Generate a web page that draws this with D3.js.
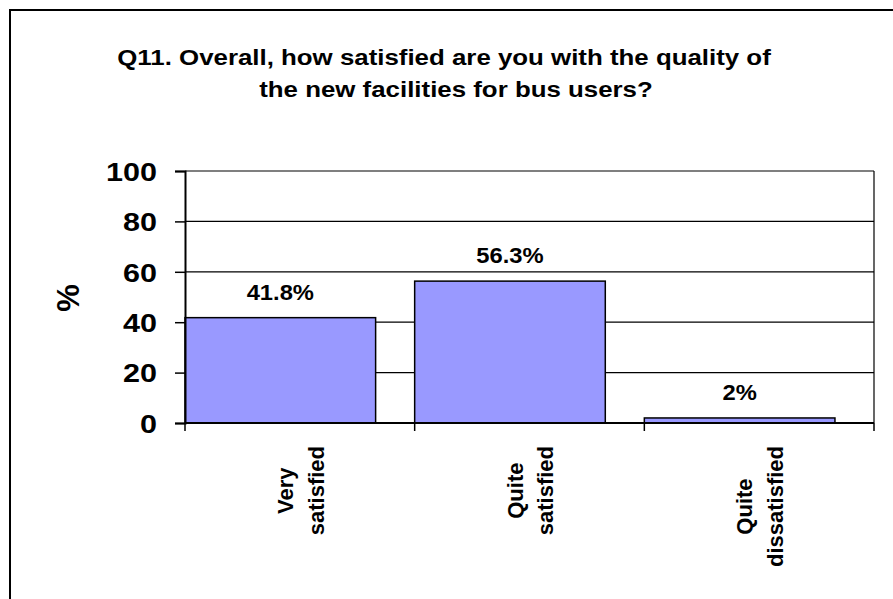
<!DOCTYPE html>
<html>
<head>
<meta charset="utf-8">
<script src="https://cdn.jsdelivr.net/npm/d3@7"></script>
<style>
  html, body { margin: 0; padding: 0; background: #fff; overflow: hidden; }
  svg { display: block; font-family: "Liberation Sans", Arial, sans-serif; font-weight: bold; }
</style>
</head>
<body>
<svg id="chart" width="893" height="599"></svg>
<script>
// Survey answers and their shares (%)
const categories = [["Very", "satisfied"], ["Quite", "satisfied"], ["Quite", "dissatisfied"]];
const values = [41.8, 56.3, 2];
const valueLabels = ["41.8%", "56.3%", "2%"];
const yTicks = [0, 20, 40, 60, 80, 100];
const titleLines = ["Q11. Overall, how satisfied are you with the quality of",
                    "the new facilities for bus users?"];
const yTitle = "%";

const svg = d3.select("#chart");
const keys = categories.map(c => c.join(" "));

const plot = { left: 185, right: 874, top: 171, bottom: 423 };
const wide = 1.175; // horizontal stretch of the chart lettering

const x = d3.scaleBand().domain(keys).range([plot.left, plot.right]).padding(0);
const y = d3.scaleLinear().domain([0, 100]).range([plot.bottom, plot.top]);
const barWidth = x.bandwidth() * 0.83;

// Outer frame of the chart: only its top and left edges lie on the page
svg.append("line").attr("x1", 9).attr("x2", 893).attr("y1", 10).attr("y2", 10)
  .attr("stroke", "#000").attr("stroke-width", 2);
svg.append("line").attr("x1", 10).attr("x2", 10).attr("y1", 9).attr("y2", 599)
  .attr("stroke", "#000").attr("stroke-width", 2);

// Title
const titleX = [444, 456];
svg.append("g").selectAll("text").data(titleLines).join("text")
  .attr("transform", (d, i) => `translate(${titleX[i]},${65 + i * 32}) scale(${wide},1)`)
  .attr("text-anchor", "middle")
  .attr("font-size", 22)
  .text(d => d);

// Horizontal gridlines
svg.append("g").selectAll("line").data(yTicks.filter(t => t > 0)).join("line")
  .attr("x1", plot.left).attr("x2", plot.right)
  .attr("y1", d => y(d)).attr("y2", d => y(d))
  .attr("stroke", "#000").attr("stroke-width", 1.2);

// Right edge of the plot area
svg.append("line")
  .attr("x1", plot.right).attr("x2", plot.right)
  .attr("y1", plot.top).attr("y2", plot.bottom)
  .attr("stroke", "#000").attr("stroke-width", 1.2);

// Bars
svg.append("g").selectAll("rect").data(values).join("rect")
  .attr("x", (d, i) => x(keys[i]))
  .attr("y", d => y(d))
  .attr("width", barWidth)
  .attr("height", d => y(0) - y(d))
  .attr("fill", "#9999FF")
  .attr("stroke", "#000").attr("stroke-width", 1.5);

// Value labels above bars
svg.append("g").selectAll("text").data(values).join("text")
  .attr("transform", (d, i) => `translate(${x(keys[i]) + barWidth / 2},${y(d) - 18}) scale(1.08,1)`)
  .attr("text-anchor", "middle")
  .attr("font-size", 22)
  .text((d, i) => valueLabels[i]);

// Y axis
const yAxis = d3.axisLeft(y).tickValues(yTicks).tickSize(10).tickFormat(d3.format("d"));
const gy = svg.append("g").attr("transform", `translate(${plot.left},0)`).call(yAxis);
gy.select(".domain").attr("stroke", "#000").attr("stroke-width", 2);
gy.selectAll(".tick line").attr("stroke", "#000").attr("stroke-width", 1.5);
gy.selectAll(".tick text")
  .attr("fill", "#000")
  .attr("font-family", "Liberation Sans, Arial, sans-serif")
  .attr("font-weight", "bold")
  .attr("font-size", 26)
  .attr("x", 0)
  .attr("dy", "0.36em")
  .attr("transform", `translate(-28,0) scale(${wide},1)`);

// X axis: ticks at category boundaries
const boundaries = keys.map(k => x(k)).concat([plot.right]);
svg.append("line")
  .attr("x1", plot.left).attr("x2", plot.right)
  .attr("y1", plot.bottom).attr("y2", plot.bottom)
  .attr("stroke", "#000").attr("stroke-width", 2);
svg.append("g").selectAll("line").data(boundaries).join("line")
  .attr("x1", d => d).attr("x2", d => d)
  .attr("y1", plot.bottom).attr("y2", plot.bottom + 8)
  .attr("stroke", "#000").attr("stroke-width", 1.5);

// Category labels, rotated, two lines each
const lineGap = 30.5;
const catG = svg.append("g").selectAll("g").data(categories).join("g");
catG.each(function(lines, i) {
  const g = d3.select(this);
  const cx = x(keys[i]) + x.bandwidth() / 2;
  const texts = g.selectAll("text").data(lines).join("text")
    .attr("font-size", 22)
    .attr("text-anchor", "middle")
    .text(d => d);
  let maxLen = 0;
  texts.each(function() { maxLen = Math.max(maxLen, this.getComputedTextLength()); });
  const cy = 446 + maxLen / 2;
  texts.attr("transform", (d, j) => {
    const bx = cx + (j - (lines.length - 1) / 2) * lineGap + 8.5;
    return `translate(${bx},${cy}) rotate(-90)`;
  });
});

// Y axis title
svg.append("text")
  .attr("transform", "translate(79,298) rotate(-90)")
  .attr("text-anchor", "middle")
  .attr("font-size", 31)
  .text(yTitle);
</script>
</body>
</html>
